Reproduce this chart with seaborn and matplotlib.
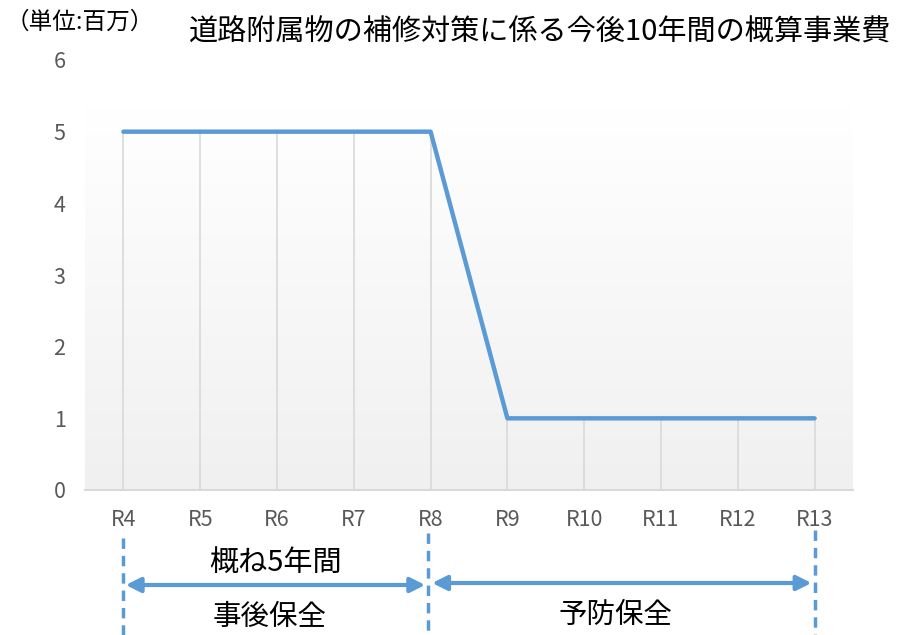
import numpy as np
import pandas as pd
import matplotlib.pyplot as plt
import matplotlib.transforms as mtransforms
import seaborn as sns

# data
years = ['R4', 'R5', 'R6', 'R7', 'R8', 'R9', 'R10', 'R11', 'R12', 'R13']
cost = [5, 5, 5, 5, 5, 1, 1, 1, 1, 1]
title = '道路附属物の補修対策に係る今後10年間の概算事業費'
unit = '（単位:百万）'

df = pd.DataFrame({'year': years, 'cost': cost})

sns.set_style('white')
plt.rcParams['font.family'] = ['Noto Sans CJK JP', 'DejaVu Sans']

blue = '#5b9bd5'
grey = '#595959'

fig = plt.figure(figsize=(8.98, 6.35), dpi=100)
ax = fig.add_axes([85 / 898, 1 - 490 / 635, 768 / 898, 430 / 635])

# light gradient in the plot area
grad = np.linspace(0, 1, 200).reshape(-1, 1)
ax.imshow(grad, extent=(-0.5, 9.5, 0, 5.35), aspect='auto', origin='upper',
          cmap=sns.blend_palette(['#ffffff', '#f0f0f0'], as_cmap=True), zorder=0)

# drop lines
ax.vlines(df.index, 0, df['cost'], color='#d9d9d9', lw=1.2, zorder=1)

sns.lineplot(data=df, x='year', y='cost', color=blue, lw=3.2, ax=ax, zorder=3)

ax.set_xlim(-0.5, 9.5)
ax.set_ylim(0, 6)
ax.set_yticks(range(7))
ax.set_xlabel('')
ax.set_ylabel('')
for s in ['left', 'top', 'right']:
    ax.spines[s].set_visible(False)
ax.spines['bottom'].set_color('#d9d9d9')
ax.spines['bottom'].set_linewidth(1.5)
ax.tick_params(axis='both', length=0, labelsize=15.5, colors=grey)
ax.tick_params(axis='y', pad=14)
ax.tick_params(axis='x', pad=14)

fig.text(540 / 898, 1 - 33 / 635, title, ha='center', va='center', fontsize=21, color='#000000')
fig.text(6 / 898, 1 - 22 / 635, unit, ha='left', va='center', fontsize=17, color='#000000')

# annotations below the axis
trans = mtransforms.blended_transform_factory(ax.transData, fig.transFigure)
for x, ytop in [(0, 538), (3.96, 533), (9, 530)]:
    ax.plot([x, x], [1 - ytop / 635, 0], transform=trans, color=blue, lw=2.5,
            ls=(0, (3, 2)), clip_on=False)

ax.annotate('', xy=(0.03, 1 - 585 / 635), xytext=(3.93, 1 - 585 / 635),
            xycoords=trans, textcoords=trans,
            arrowprops=dict(arrowstyle='<|-|>', color=blue, lw=3, mutation_scale=22,
                            shrinkA=0, shrinkB=0))
ax.annotate('', xy=(4.02, 1 - 583 / 635), xytext=(8.96, 1 - 583 / 635),
            xycoords=trans, textcoords=trans,
            arrowprops=dict(arrowstyle='<|-|>', color=blue, lw=3, mutation_scale=22,
                            shrinkA=0, shrinkB=0))

fig.text(276 / 898, 1 - 563 / 635, '概ね5年間', ha='center', va='center', fontsize=21, color='#000000')
fig.text(270 / 898, 1 - 617 / 635, '事後保全', ha='center', va='center', fontsize=20.5, color='#000000')
fig.text(615 / 898, 1 - 615 / 635, '予防保全', ha='center', va='center', fontsize=20.5, color='#000000')

fig.savefig('out.png', dpi=100)
